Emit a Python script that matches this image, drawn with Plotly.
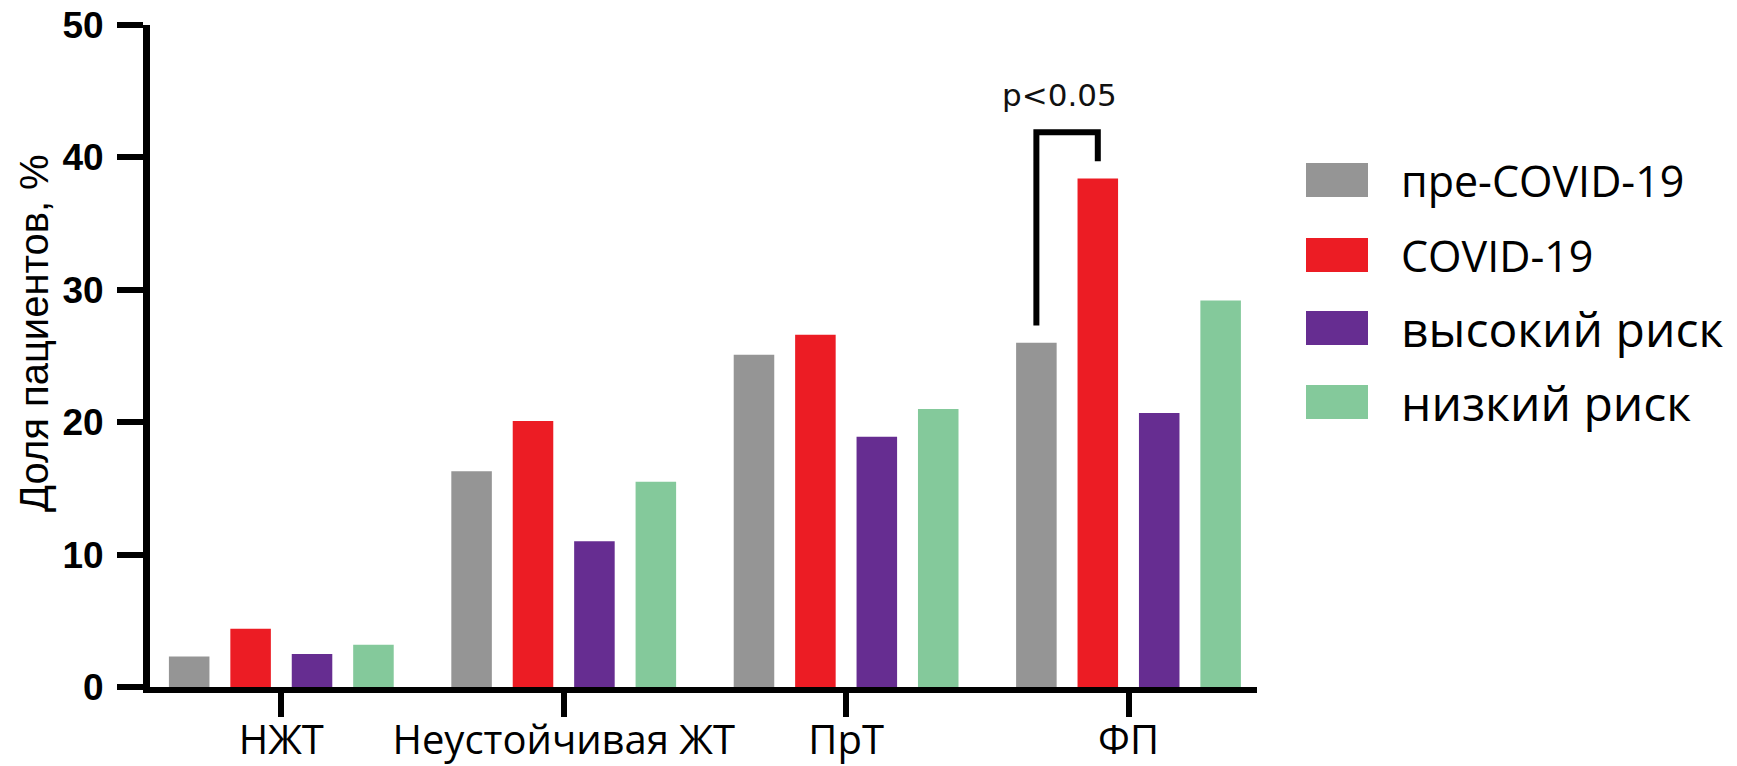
import plotly.graph_objects as go

categories = ["НЖТ", "Неустойчивая ЖТ", "ПрТ", "ФП"]
series_names = ["пре-COVID-19", "COVID-19", "высокий риск", "низкий риск"]
pre_covid = [2.3, 16.3, 25.1, 26.0]
covid = [4.4, 20.1, 26.6, 38.4]
high_risk = [2.5, 11.0, 18.9, 20.7]
low_risk = [3.2, 15.5, 21.0, 29.2]
colors = ["#959595", "#EC1C24", "#662D91", "#84C99B"]
y_ticks = [0, 10, 20, 30, 40, 50]
p_label = "p<0.05"
bracket_levels = [27.3, 41.9, 39.7]  # left foot, top, right foot

series_values = [pre_covid, covid, high_risk, low_risk]

W, H = 1737, 766
L, R, T, B = 150, 480, 25, 79
plot_w = W - L - R
plot_h = H - T - B

bargap = 0.13
bargroupgap = 0.34
slot = (1 - bargap) / len(series_names)

fig = go.Figure()
for name, vals, col in zip(series_names, series_values, colors):
    fig.add_trace(go.Bar(x=categories, y=vals, name=name, marker=dict(color=col, line=dict(width=0)),
                         showlegend=False))

# significance bracket between pre-COVID and COVID in the last group
gi = len(categories) - 1
x_gray = gi + (0 - 1.5) * slot
x_red = gi + (1 - 1.5) * slot
fig.add_shape(type="path", xref="x", yref="y",
              path=f"M {x_gray},{bracket_levels[0]} L {x_gray},{bracket_levels[1]} L {x_red},{bracket_levels[1]} L {x_red},{bracket_levels[2]}",
              line=dict(color="black", width=6))
fig.add_annotation(x=(x_gray + x_red) / 2 - 0.028, y=44.7, xref="x", yref="y", text=p_label, showarrow=False,
                   font=dict(family="DejaVu Sans", size=31, color="#111"), xanchor="center", yanchor="middle")

# legend drawn manually (large swatches)
def px_x(px):
    return (px - L) / plot_w

def px_y(py):
    return (H - B - py) / plot_h

row_centers = [180, 255, 328, 402]
legend_sizes = [43, 43, 48, 48]
for name, col, yc, fs in zip(series_names, colors, row_centers, legend_sizes):
    fig.add_shape(type="rect", xref="paper", yref="paper",
                  x0=px_x(1306), x1=px_x(1368), y0=px_y(yc + 17), y1=px_y(yc - 17),
                  fillcolor=col, line=dict(width=0))
    fig.add_annotation(x=px_x(1399), y=px_y(yc), xref="paper", yref="paper", text=name, showarrow=False,
                       xanchor="left", yanchor="middle",
                       font=dict(family="Open Sans", size=fs, color="black"))

# y axis title
fig.add_annotation(x=px_x(34), y=px_y(333), xref="paper", yref="paper", text="Доля пациентов, %",
                   textangle=-90, showarrow=False, xanchor="center", yanchor="middle",
                   font=dict(family="Liberation Sans", size=40, color="black"))

fig.update_layout(
    width=W, height=H,
    margin=dict(l=L, r=R, t=T, b=B, autoexpand=False),
    paper_bgcolor="white", plot_bgcolor="white",
    barmode="group", bargap=bargap, bargroupgap=bargroupgap,
    showlegend=False,
)
fig.update_xaxes(
    type="category", range=[-0.465, 3.455],
    showline=True, linecolor="black", linewidth=6,
    ticks="outside", ticklen=24, tickwidth=6, tickcolor="black",
    tickfont=dict(family="Open Sans", size=40, color="black"),
    ticklabelstandoff=-11,
    showgrid=False, zeroline=False,
)
fig.update_yaxes(
    range=[0, 50], tickvals=y_ticks,
    showline=True, linecolor="black", linewidth=7,
    ticks="outside", ticklen=26, tickwidth=6, tickcolor="black",
    tickfont=dict(family="Liberation Sans", size=37, color="black", weight="bold"),
    ticklabelstandoff=6,
    showgrid=False, zeroline=False,
)

fig.write_html("out.html", config={"displayModeBar": False},
               post_script="document.body.style.margin='0';document.body.style.overflow='hidden';")
